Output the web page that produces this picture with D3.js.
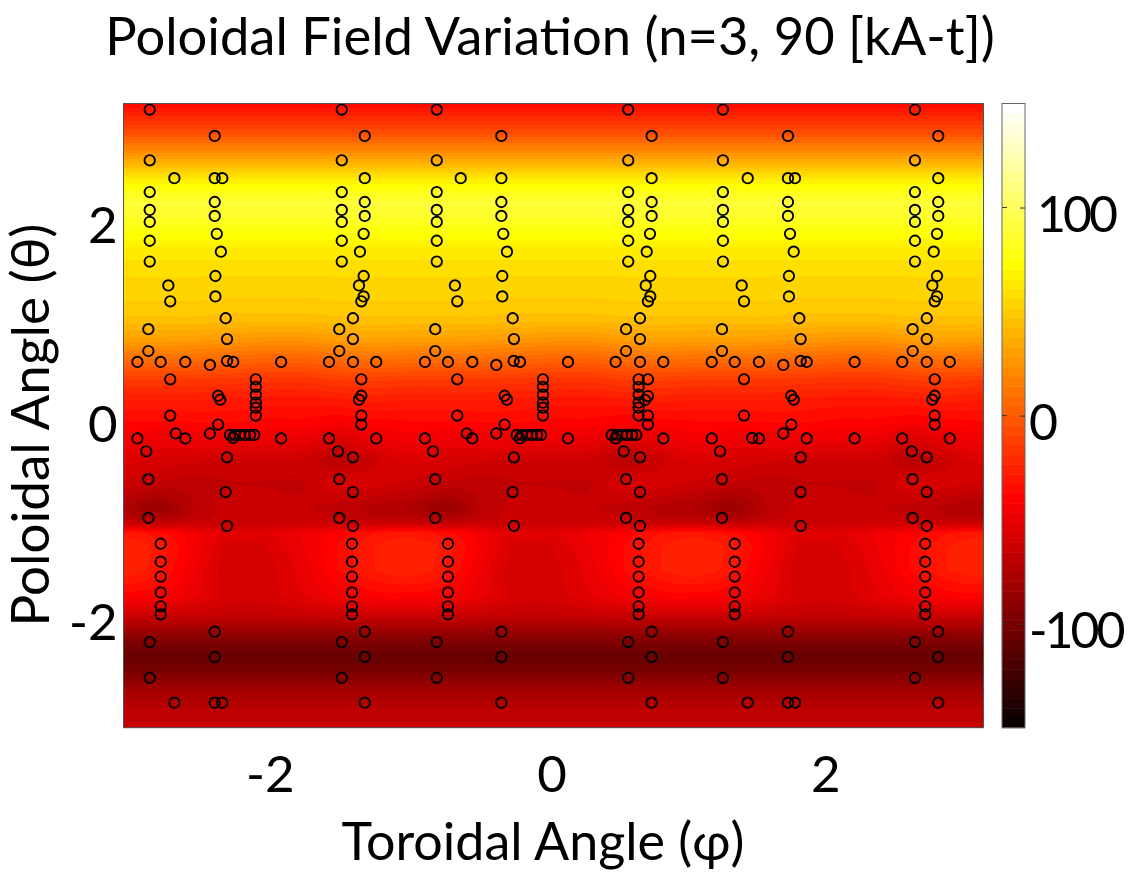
<!DOCTYPE html>
<html>
<head>
<meta charset="utf-8">
<title>Poloidal Field Variation</title>
<script src="https://cdn.jsdelivr.net/npm/d3@7"></script>
<style>
    html, body { margin: 0; background: #fff; }
    #container { position: relative; width: 1131px; height: 873px; overflow: hidden; }
    #field { position: absolute; left: 124px; top: 104px; }
    svg { position: absolute; left: 0; top: 0; }
    text { font-family: Lato, "Open Sans", sans-serif; fill: #000; }
</style>
</head>
<body>
<div id="container">
    <canvas id="field" width="860" height="624"></canvas>
    <svg id="chart" width="1131" height="873"></svg>
</div>
<script>
const titleText = 'Poloidal Field Variation (n=3, 90 [kA-t])';
const xLabelText = 'Toroidal Angle (φ)';
const yLabelText = 'Poloidal Angle (θ)';
const axisTicks = [-2, 0, 2];
const colorTicks = [-100, 0, 100];
const colorDomain = [-150, 150];

// field is read over one n=3 period, the plot shows the same pattern three times
const fieldPeriod = 2 * Math.PI / 3;
const fieldPhi = [-3.14, -2.88, -2.62, -2.36, -2.09, -1.83, -1.57, -1.31];
const fieldTheta = [
    3.14, 2.84, 2.56, 2.40, 2.30, 2.14, 2.00, 1.84, 1.67, 1.44, 1.17, 0.97, 0.77, 0.57, 0.36, 0.16, -0.04,
    -0.22, -0.45, -0.68, -0.92, -1.02, -1.10, -1.18, -1.32, -1.55, -1.82, -2.03, -2.23, -2.43, -2.56, -2.77, -2.97, -3.14
];
const fieldValues = [
    [-37, -37, -37, -37, -37, -37, -37, -37],
    [-5, -5, -5, -5, -5, -5, -5, -5],
    [36, 36, 36, 36, 36, 36, 36, 36],
    [62, 62, 62, 62, 62, 62, 62, 62],
    [75, 75, 75, 75, 75, 75, 75, 75],
    [90, 90, 90, 90, 90, 90, 90, 90],
    [85, 85, 85, 85, 85, 85, 85, 85],
    [75, 75, 75, 75, 75, 75, 75, 75],
    [64, 64, 64, 64, 64, 64, 64, 64],
    [57, 57, 57, 57, 57, 57, 57, 57],
    [52, 52, 52, 51, 51, 51, 52, 52],
    [46, 46, 46, 45, 45, 45, 46, 46],
    [31, 31, 30, 28, 26, 26, 30, 32],
    [9, 9, 8, 6, 4, 4, 8, 10],
    [-14, -14, -15, -16, -17, -17, -14, -13],
    [-28, -28, -28, -29, -30, -30, -29, -27],
    [-37, -37, -36, -36, -38, -38, -40, -38],
    [-44, -46, -45, -45, -46, -48, -54, -48],
    [-55, -58, -60, -62, -62, -62, -70, -62],
    [-62, -66, -68, -66, -66, -66, -56, -58],
    [-76, -84, -70, -64, -64, -65, -68, -72],
    [-72, -76, -68, -64, -64, -64, -66, -70],
    [-60, -62, -62, -62, -62, -60, -60, -60],
    [-30, -36, -45, -53, -52, -46, -40, -33],
    [-24, -30, -44, -58, -56, -47, -37, -28],
    [-24, -32, -47, -60, -58, -49, -37, -28],
    [-40, -42, -50, -58, -58, -52, -45, -40],
    [-65, -65, -66, -67, -67, -66, -65, -65],
    [-92, -92, -92, -92, -92, -92, -92, -92],
    [-108, -108, -108, -108, -108, -108, -108, -108],
    [-100, -100, -100, -100, -100, -100, -100, -100],
    [-80, -80, -80, -80, -80, -80, -80, -80],
    [-69, -69, -69, -69, -69, -69, -69, -69],
    [-64, -64, -64, -64, -64, -64, -64, -64]
];

// sensor positions: theta levels shared by many toroidal positions
const thetaOuter = [3.08, 2.57, 2.25, 2.07, 1.95, 1.76, 1.55, -2.28, -2.64];
const thetaInner = [2.815, 2.39, 2.15, 2.01, -2.175, -2.43, -2.89];
const thetaMid = [0.87, 0.65, -0.64, -1.03];
const thetaLower = [-1.29, -1.47, -1.62, -1.78, -1.92, -2.00];
const thetaStack = [0.365, 0.29, 0.21, 0.13, 0.08, 0];
const thetaPlane = [0.54, -0.23];
const sensorColumns = [
    [-2.95, thetaOuter], [-2.96, thetaMid], [-3.04, thetaPlane], [-2.87, [0.54]], [-2.87, thetaLower],
    [-2.69, thetaPlane], [-2.51, [0.51, -0.18]], [-2.385, [0.77, 0.55, -0.42, -1.11]], [-2.34, [0.54, -0.225]],
    [-1.99, thetaPlane], [-2.80, [1.15, 0.365, 0]], [-2.814, [1.31]], [-2.77, [2.39, -2.89]], [-2.475, thetaInner],
    [-2.42, [2.39, -2.89]], [-2.46, [1.83]], [-2.43, [1.65]], [-2.47, [1.405, 1.20]], [-2.395, [0.98, -0.77]],
    [-2.45, [0.20, -0.09]], [-2.435, [0.16]], [-2.175, thetaStack], [-2.76, [-0.18]], [-2.975, [-0.36]],
    [-2.364, [-0.195]], [-2.327, [-0.195]], [-2.291, [-0.195]], [-2.254, [-0.195]], [-2.217, [-0.195]], [-2.186, [-0.195]],

    [-1.64, thetaPlane], [-1.565, thetaMid], [-1.574, [-0.36]], [-1.547, thetaOuter], [-1.379, thetaInner],
    [-1.387, [1.83, 1.405, 1.20]], [-1.414, [1.65]], [-1.421, [1.31, 0.16]], [-1.404, [1.15, 0.365, 0.20, 0, -0.09]],
    [-1.465, [0.98, 0.77, 0.54, -0.42, -0.77, -1.11]], [-1.472, thetaLower], [-1.295, thetaPlane],

    [-0.939, thetaPlane], [-0.771, [0.54]], [-0.771, thetaLower], [-0.593, thetaPlane], [-0.418, [0.51, -0.18]],
    [-0.291, [0.55]], [-0.245, thetaPlane], [0.106, thetaPlane], [-0.703, [1.15, 0.365, 0]], [-0.72, [1.31]],
    [-0.678, [2.39]], [-0.381, thetaInner], [-0.367, [1.83]], [-0.34, [1.65, 0.16]], [-0.374, [1.405, 1.20]],
    [-0.298, [0.98, -0.77]], [-0.289, [0.77, -0.42, -1.11]], [-0.357, [0.20, -0.09]], [-0.077, thetaStack],
    [-0.853, thetaOuter], [-0.864, thetaMid], [-0.88, [-0.36]], [-0.634, [-0.18]],
    [-0.269, [-0.195]], [-0.23, [-0.195]], [-0.194, [-0.195]], [-0.157, [-0.195]], [-0.121, [-0.195]], [-0.091, [-0.195]],

    [0.454, thetaPlane], [0.53, thetaMid], [0.546, thetaOuter], [0.717, thetaInner], [0.705, [1.83]], [0.681, [1.65]],
    [0.707, [1.405, 1.20]], [0.674, [1.31]], [0.69, [1.15, 0.365, 0.197, 0, -0.09]], [0.669, [0.157]],
    [0.632, [0.98, 0.77, 0.54, -0.42, -0.77, -1.11]], [0.802, thetaPlane], [0.622, thetaStack], [0.622, thetaLower], [0.513, [-0.36]],
    [0.425, [-0.195]], [0.464, [-0.195]], [0.50, [-0.195]], [0.537, [-0.195]], [0.574, [-0.195]], [0.605, [-0.195]],

    [1.156, thetaPlane], [1.238, thetaOuter], [1.231, thetaMid], [1.324, [0.54]], [1.324, thetaLower], [1.501, thetaPlane],
    [1.452, [-0.225]], [1.679, [0.51, -0.18]], [1.806, [0.77, 0.55, -0.42, -0.77, -1.11]], [1.85, thetaPlane], [2.20, thetaPlane],
    [1.392, [1.15, 0.365, 0]], [1.375, [1.31]], [1.419, [2.39, -2.89]], [1.217, [-0.36]], [1.713, thetaInner], [1.764, [2.39, -2.89]],
    [1.728, [1.83]], [1.755, [1.65, 0.16]], [1.72, [1.405, 1.20]], [1.796, [0.98]], [1.737, [0.20, -0.09]],

    [2.548, thetaPlane], [2.624, thetaMid], [2.641, thetaOuter], [2.811, thetaInner], [2.802, [1.83, 1.405, 1.20]],
    [2.778, [1.65]], [2.768, [1.31, 0.16]], [2.785, [1.15, 0.365, 0.20, 0, -0.09]],
    [2.727, [0.98, 0.77, 0.54, -0.42, -0.77, -1.11]], [2.895, thetaPlane], [2.716, thetaLower], [2.617, [-0.36]]
];

// 64 step hot colormap
const hotColors = d3.range(64).map(i => {
    const t = (i + 1) / 64;
    const r = Math.min(1, t / 0.375);
    const g = Math.max(0, Math.min(1, (t - 0.375) / 0.375));
    const b = Math.max(0, (t - 0.75) / 0.25);
    return d3.rgb(r * 255, g * 255, b * 255).formatHex();
});

const plot = {left: 123.5, right: 983.5, top: 103.5, bottom: 727.7};
const bar = {left: 1002, right: 1025};

const xScale = d3.scaleLinear().domain([-Math.PI, Math.PI]).range([plot.left, plot.right]);
const yScale = d3.scaleLinear().domain([-Math.PI, Math.PI]).range([plot.bottom, plot.top]);
const colorScale = d3.scaleQuantize().domain(colorDomain).range(hotColors);
const colorY = d3.scaleLinear().domain(colorDomain).range([plot.bottom, plot.top]);

function catmull(a, b, c, d, t) {
    return 0.5 * (2 * b + (c - a) * t + (2 * a - 5 * b + 4 * c - d) * t * t + (3 * b - a - 3 * c + d) * t * t * t);
}

// value at phi and theta: smooth across the period, linear between rows
function fieldAt(phi, theta) {
    const n = fieldPhi.length;
    const pos = ((phi - fieldPhi[0]) % fieldPeriod + fieldPeriod) % fieldPeriod / fieldPeriod * n;
    const i = Math.floor(pos) % n;
    const t = pos - Math.floor(pos);
    let row = fieldTheta.findIndex(d => d <= theta);
    row = Math.max(1, row < 0 ? fieldTheta.length - 1 : row);
    const s = (fieldTheta[row - 1] - theta) / (fieldTheta[row - 1] - fieldTheta[row]);
    const at = r => catmull(
        fieldValues[r][(i + n - 1) % n], fieldValues[r][i],
        fieldValues[r][(i + 1) % n], fieldValues[r][(i + 2) % n], t
    );
    return at(row - 1) * (1 - s) + at(row) * s;
}

function drawField() {
    const canvas = document.getElementById('field');
    const ctx = canvas.getContext('2d');
    const image = ctx.createImageData(canvas.width, canvas.height);
    const rgbColors = new Map(hotColors.map(c => {
        const rgb = d3.rgb(c);
        return [c, [rgb.r, rgb.g, rgb.b]];
    }));
    let k = 0;
    for (let py = 0; py < canvas.height; py++) {
        const theta = yScale.invert(py + 104.5);
        for (let px = 0; px < canvas.width; px++) {
            const rgb = rgbColors.get(colorScale(fieldAt(xScale.invert(px + 124.5), theta)));
            image.data[k++] = rgb[0];
            image.data[k++] = rgb[1];
            image.data[k++] = rgb[2];
            image.data[k++] = 255;
        }
    }
    ctx.putImageData(image, 0, 0);
}

function drawChart() {
    const svg = d3.select('#chart');

    // 探针圆圈
    const sensors = sensorColumns.flatMap(([phi, thetas]) => thetas.map(theta => ({phi, theta})));
    svg.append('g')
        .selectAll('circle')
        .data(sensors)
        .join('circle')
        .attr('cx', d => xScale(d.phi))
        .attr('cy', d => yScale(d.theta))
        .attr('r', 5.2)
        .attr('fill', 'none')
        .attr('stroke', '#000')
        .attr('stroke-width', 1.9);

    svg.append('rect')
        .attr('x', plot.left)
        .attr('y', plot.top)
        .attr('width', plot.right - plot.left)
        .attr('height', plot.bottom - plot.top)
        .attr('fill', 'none')
        .attr('stroke', '#555');

    // 轴
    const xAxisG = svg.append('g')
        .attr('transform', `translate(0,${plot.bottom})`)
        .call(d3.axisBottom(xScale).tickValues(axisTicks).tickSize(0).tickPadding(28).tickFormat(d => String(d)));
    const yAxisG = svg.append('g')
        .attr('transform', `translate(${plot.left},0)`)
        .call(d3.axisLeft(yScale).tickValues(axisTicks).tickSize(0).tickPadding(6).tickFormat(d => String(d)));
    xAxisG.select('.domain').remove();
    yAxisG.select('.domain').remove();
    xAxisG.selectAll('text').style('font-size', '51px').attr('dx', d => d < 0 ? -10 : -2);
    yAxisG.selectAll('text').style('font-size', '51px').attr('dy', '0.5em');

    // 颜色条
    const step = (plot.bottom - plot.top) / hotColors.length;
    svg.append('g')
        .selectAll('rect')
        .data(hotColors)
        .join('rect')
        .attr('x', bar.left)
        .attr('y', (d, i) => plot.bottom - (i + 1) * step)
        .attr('width', bar.right - bar.left)
        .attr('height', step + 0.5)
        .attr('fill', d => d);
    svg.append('rect')
        .attr('x', bar.left)
        .attr('y', plot.top)
        .attr('width', bar.right - bar.left)
        .attr('height', plot.bottom - plot.top)
        .attr('fill', 'none')
        .attr('stroke', '#666');

    const colorAxisG = svg.append('g')
        .attr('transform', `translate(${bar.right},0)`)
        .call(d3.axisRight(colorY).tickValues(colorTicks).tickSize(-5).tickPadding(4).tickFormat(d => String(d)));
    colorAxisG.select('.domain').remove();
    colorAxisG.selectAll('line').attr('stroke', '#333');
    colorAxisG.selectAll('text')
        .style('font-size', '50px')
        .style('letter-spacing', '-3px')
        .attr('dx', d => d === 100 ? 8 : 0)
        .attr('dy', '0.48em');
    svg.append('g')
        .selectAll('line')
        .data(colorTicks)
        .join('line')
        .attr('x1', bar.left)
        .attr('x2', bar.left + 5)
        .attr('y1', d => colorY(d))
        .attr('y2', d => colorY(d))
        .attr('stroke', '#333');

    // 标题和轴标题
    svg.append('text')
        .attr('x', 550)
        .attr('y', 55)
        .attr('text-anchor', 'middle')
        .style('font-size', '52.5px')
        .text(titleText);
    svg.append('text')
        .attr('x', 543)
        .attr('y', 860)
        .attr('text-anchor', 'middle')
        .style('font-size', '52px')
        .text(xLabelText);
    svg.append('text')
        .attr('transform', 'translate(49,425) rotate(-90)')
        .attr('text-anchor', 'middle')
        .style('font-size', '53px')
        .text(yLabelText);
}

drawField();
drawChart();
</script>
</body>
</html>
